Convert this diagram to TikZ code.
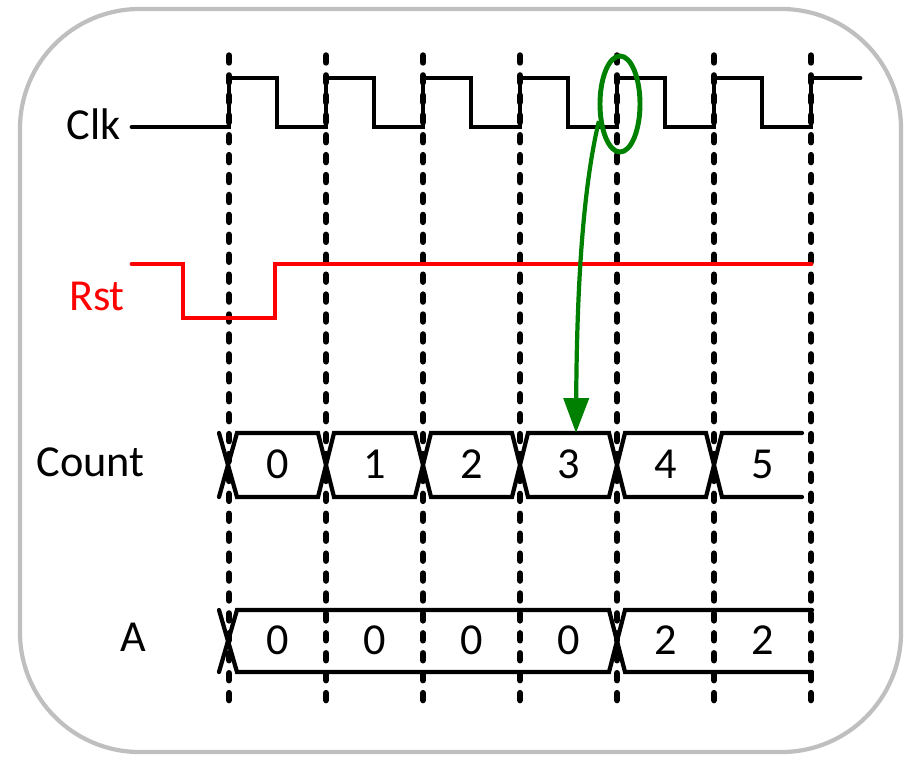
\documentclass[tikz,border=0pt]{standalone}
\usepackage{fontspec}
\setmainfont{Carlito}
\usetikzlibrary{arrows.meta,shapes.geometric}
\definecolor{framegray}{RGB}{191,191,191}
\definecolor{rstred}{RGB}{255,0,0}
\definecolor{markgreen}{RGB}{0,128,0}
\begin{document}
\begin{tikzpicture}[x=0.025cm,y=-0.025cm,
  wave/.style={line width=3.5pt, line cap=round, line join=miter},
  bus/.style={line width=3pt, line cap=round, line join=miter},
  tick/.style={line width=4.6pt, line cap=round, dash pattern=on 4.96pt off 9.21pt},
  lbl/.style={font=\fontsize{31.5}{36}\selectfont, inner sep=0pt},
  val/.style={font=\fontsize{31.5}{36}\selectfont, inner sep=0pt, anchor=base}]
\useasboundingbox (0,0) rectangle (907,756);
% outer frame
\draw[framegray, line width=3pt, rounded corners=85pt] (20,9) rectangle (901,752);
% clock edges
\foreach \x in {229,326,423,520,617,714,811}
  \draw[tick] (\x,55.5) -- (\x,703);
% signal names
\node[lbl, anchor=base east] (clk) at (121,139) {Clk};
\node[lbl, anchor=base east, text=rstred] (rst) at (125,310) {Rst};
\node[lbl, anchor=base east] (count) at (145,476) {Count};
\node[lbl, anchor=base east] (a) at (146,651) {A};
% clock waveform
\draw[wave] (132,127) \foreach \x in {229,326,423,520,617,714}
  { -- (\x,127) -- (\x,78) -- ({\x+48},78) -- ({\x+48},127) }
  -- (811,127) -- (811,78) -- (860,78);
% reset waveform
\draw[wave, rstred] (132,264) -- (183,264) -- (183,318) -- (275,318) -- (275,264) -- (811,264);
% Count bus
\draw[bus] (219,433) -- (237,497) -- (318,497) -- (334,433) -- (415,433) -- (431,497)
  -- (512,497) -- (528,433) -- (609,433) -- (625,497) -- (706,497) -- (722,433) -- (802,433);
\draw[bus] (219,497) -- (237,433) -- (318,433) -- (334,497) -- (415,497) -- (431,433)
  -- (512,433) -- (528,497) -- (609,497) -- (625,433) -- (706,433) -- (722,497) -- (802,497);
\node[val] (c0) at (277.5,478) {0};
\node[val] (c1) at (374.5,478) {1};
\node[val] (c2) at (471.5,478) {2};
\node[val] (c3) at (568.5,478) {3};
\node[val] (c4) at (665.5,478) {4};
\node[val] (c5) at (762.5,478) {5};
% A bus
\draw[bus] (219,610) -- (237,672) -- (609,672) -- (625,610) -- (812,610);
\draw[bus] (219,672) -- (237,610) -- (609,610) -- (625,672) -- (812,672);
\node[val] (a0) at (277.5,654) {0};
\node[val] (a1) at (374.5,654) {0};
\node[val] (a2) at (471.5,654) {0};
\node[val] (a3) at (568.5,654) {0};
\node[val] (a4) at (665.5,654) {2};
\node[val] (a5) at (762.5,654) {2};
% highlighted edge and its effect
\node[ellipse, draw=markgreen, line width=3.5pt, minimum width=1.0cm, minimum height=2.4cm, inner sep=0pt] (ring) at (620,104) {};
\coordinate (hit) at (576,433);
\draw[markgreen, line width=3pt, -{Triangle[length=24.8pt, width=17.7pt]}]
  (ring.219) .. controls (586,175) and (577,260) .. (hit);
\end{tikzpicture}
\end{document}
